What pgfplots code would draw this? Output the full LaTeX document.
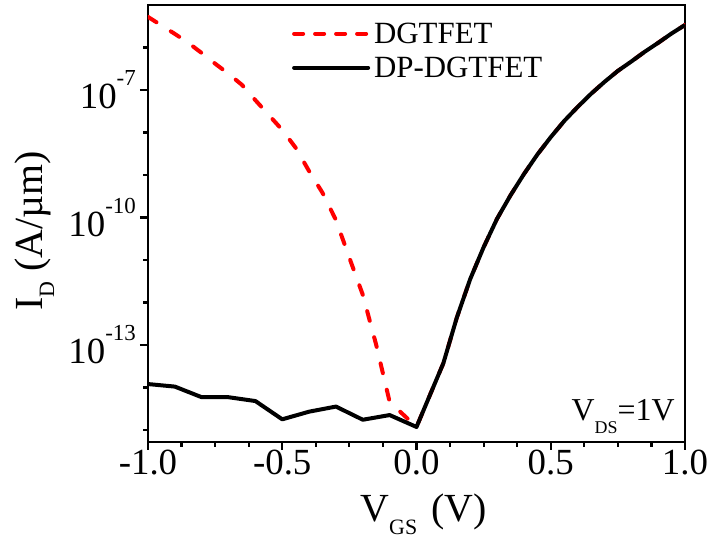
\documentclass[border=0pt]{standalone}
\usepackage{fontspec}
\setmainfont{Liberation Serif}
\usepackage{pgfplots}
\pgfplotsset{compat=1.18}

% power-of-ten tick label with a raised exponent
\newcommand{\pw}[1]{10\raisebox{23bp}{\fontsize{23}{23}\selectfont #1}}

\begin{document}
\begin{tikzpicture}
\begin{axis}[
  scale only axis, width=537bp, height=437bp,
  xmin=-1, xmax=1,
  ymode=log, ymin=5.2e-16, ymax=1e-5,
  axis line style={line width=2.2bp},
  every tick/.style={line width=2.2bp, black},
  tick align=outside,
  major tick length=8bp, minor tick length=4.5bp,
  xtick pos=left, ytick pos=left,
  xtick={-1,-0.5,0,0.5,1},
  xticklabels={-1.0,-0.5,0.0,0.5,1.0},
  minor x tick num=3,
  ytick={1e-13,1e-10,1e-7},
  yticklabels={\pw{-13},\pw{-10},\pw{-7}},
  minor ytick={1e-15,1e-14,1e-12,1e-11,1e-9,1e-8,1e-6},
  xticklabel style={font=\fontsize{37}{37}\selectfont, inner sep=0pt, anchor=north},
  yticklabel style={font=\fontsize{37}{37}\selectfont, inner sep=0pt, anchor=east, xshift=-4bp},
  xlabel={V\raisebox{-13bp}{\fontsize{22}{22}\selectfont GS}\hspace{4bp} (V)},
  ylabel={I\raisebox{-12bp}{\fontsize{22}{22}\selectfont D} (A/µm)},
  xlabel style={font=\fontsize{40}{40}\selectfont, at={(axis description cs:0.513,-0.183)}, anchor=base, inner sep=0pt},
  ylabel style={font=\fontsize{40}{40}\selectfont, at={(axis description cs:-0.197,0.483)}, anchor=base, inner sep=0pt},
  legend style={draw=none, fill=none, at={(axis description cs:0.268,0.962)}, anchor=north west,
    font=\fontsize{31}{31}\selectfont, inner sep=0pt, row sep=10bp, column sep=3bp, nodes={inner sep=1pt}},
  legend cell align=left,
  legend image code/.code={\draw[#1, line cap=round] (0bp,0bp) -- (74bp,0bp);},
]
% DGTFET (dashed red)
\addplot[red, line width=4bp, line cap=round, line join=round, dash pattern=on 10bp off 17bp, forget plot] table {
x y
-1.0 5.248e-6
-0.95 3.311e-6
-0.9 2.089e-6
-0.85 1.288e-6
-0.8 7.413e-7
-0.75 4.169e-7
-0.7 2.399e-7
-0.65 1.318e-7
-0.6 5.754e-8
-0.55 2.570e-8
-0.5 1.148e-8
-0.45 4.365e-9
-0.4 1.230e-9
-0.35 3.802e-10
-0.3 8.710e-11
-0.25 1.122e-11
-0.2 1.514e-12
-0.15 1.0e-13
-0.1 4.571e-15
0.0 1.175e-15
0.1 3.715e-14
0.15 4.365e-13
0.2 3.548e-12
0.25 1.995e-11
0.3 9.333e-11
0.35 3.311e-10
0.4 1.047e-9
0.45 3.020e-9
0.5 7.762e-9
0.55 1.862e-8
0.6 3.981e-8
0.65 8.128e-8
0.7 1.549e-7
0.75 2.818e-7
0.8 4.677e-7
0.85 7.943e-7
0.9 1.288e-6
0.95 2.138e-6
1.0 3.388e-6
};
\addlegendimage{red, line width=4bp, dash pattern=on 9bp off 12bp}
\addlegendentry{DGTFET}
% DP-DGTFET (solid black)
\addplot[black, line width=4bp, line join=round] table {
x y
-1.0 1.202e-14
-0.9 1.047e-14
-0.8 5.89e-15
-0.7 5.89e-15
-0.6 4.786e-15
-0.5 1.778e-15
-0.4 2.692e-15
-0.3 3.548e-15
-0.2 1.738e-15
-0.1 2.239e-15
0.0 1.175e-15
0.1 3.715e-14
0.15 4.365e-13
0.2 3.548e-12
0.25 1.995e-11
0.3 9.333e-11
0.35 3.311e-10
0.4 1.047e-9
0.45 3.020e-9
0.5 7.762e-9
0.55 1.862e-8
0.6 3.981e-8
0.65 8.128e-8
0.7 1.549e-7
0.75 2.818e-7
0.8 4.677e-7
0.85 7.943e-7
0.9 1.288e-6
0.95 2.138e-6
1.0 3.388e-6
};
\addlegendentry{DP-DGTFET}
\node[anchor=base east, inner sep=0pt, font=\fontsize{32}{32}\selectfont] at (rel axis cs:0.981,0.05)
  {V\raisebox{-13bp}{\fontsize{18}{18}\selectfont DS}=1V};
\end{axis}
\pgfresetboundingbox
\path[use as bounding box] (-148bp,-97bp) rectangle (564bp,442bp);
\end{tikzpicture}
\end{document}
